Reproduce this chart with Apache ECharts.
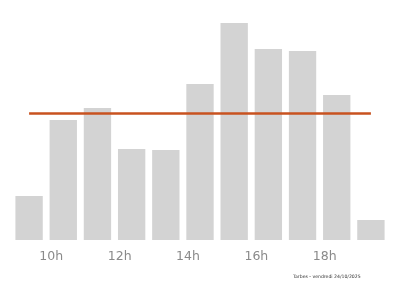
<!DOCTYPE html>
<html><head><meta charset="utf-8">
<script src="https://cdn.jsdelivr.net/npm/echarts@6/dist/echarts.min.js"></script>
<style>html,body{margin:0;padding:0;background:#fff}#c{width:400px;height:286px}</style>
</head><body><div id="c"></div>
<script>
const categories = ['9h','10h','11h','12h','13h','14h','15h','16h','17h','18h','19h'];
const values = [44, 120, 132, 91, 90, 156, 217, 191, 189, 145, 20];
const footer = 'Tarbes - vendredi 24/10/2025';

const avg = values.reduce((a,b)=>a+b,0)/values.length;
const chart = echarts.init(document.getElementById('c'), null, {renderer:'canvas'});
chart.setOption({
  animation:false,
  backgroundColor:'#ffffff',
  grid:{left:12, right:12, top:0, bottom:46, containLabel:false},
  xAxis:{type:'category', data:categories,
    axisLine:{show:false}, axisTick:{show:false},
    axisLabel:{interval:(i)=>i%2===1, color:'#8a8a8a', fontSize:12.5, fontFamily:'DejaVu Sans', margin:10, padding:[0,24,0,0]}},
  yAxis:{type:'value', min:0, max:240, show:false, splitLine:{show:false}},
  graphic:[{type:'text', left:293, top:274.5, style:{text:footer, fontSize:4.6, fill:'#333', fontFamily:'DejaVu Sans'}}],
  series:[{type:'bar', data:values, barCategoryGap:'20%',
    itemStyle:{color:'#d3d3d3'},
    markLine:{silent:true, symbol:'none', label:{show:false},
      lineStyle:{color:'#c8521f', width:2.5, type:'solid'},
      data:[[{xAxis:categories[0], yAxis:avg},{xAxis:categories[categories.length-1], yAxis:avg}]]}}]
});
</script></body></html>
